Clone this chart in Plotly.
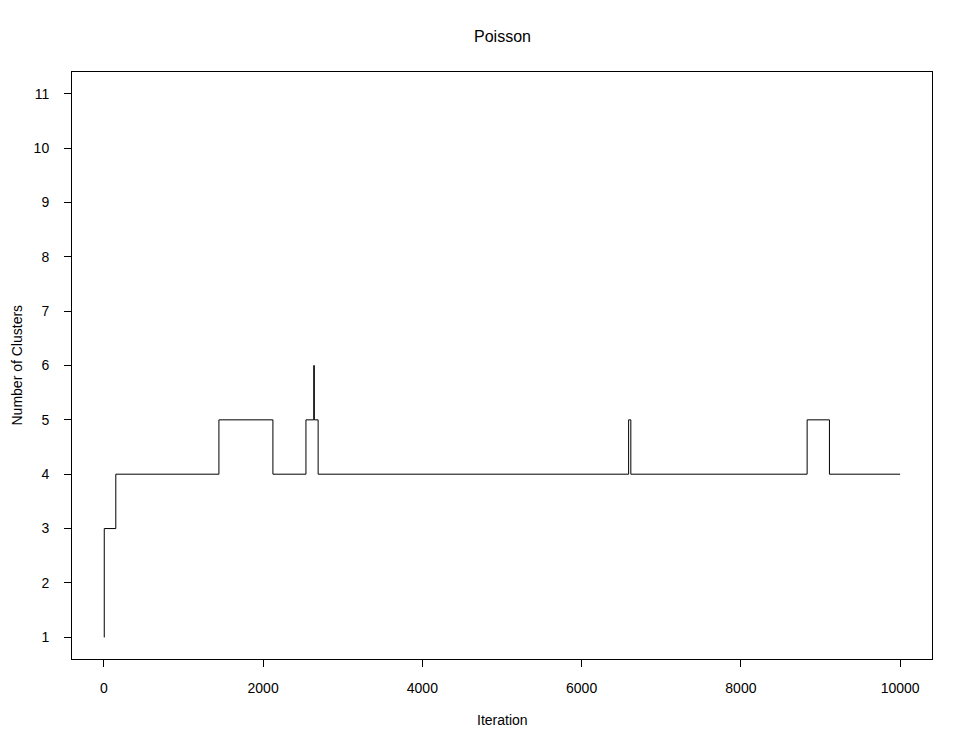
import plotly.graph_objects as go

# change points of the step trace (iteration, number of clusters)
iterations = [1, 5, 150, 1445, 2123, 2538, 2636, 2643, 2691, 6590, 6618, 8832, 9112, 10000]
clusters = [1, 3, 4, 5, 4, 5, 6, 5, 4, 5, 4, 5, 4, 4]

x_ticks = [0, 2000, 4000, 6000, 8000, 10000]
y_ticks = list(range(1, 12))

font = "Liberation Sans, Arial, Helvetica, sans-serif"

fig = go.Figure()
fig.add_trace(go.Scatter(
    x=iterations, y=clusters, mode="lines",
    line=dict(color="black", width=1, shape="hv"),
    showlegend=False, hoverinfo="skip",
))

fig.update_layout(
    width=961, height=741,
    margin=dict(l=64, r=37, t=64, b=90),
    paper_bgcolor="white", plot_bgcolor="white",
    font=dict(family=font, size=14, color="black"),
    showlegend=False,
)

fig.update_xaxes(
    range=[-400, 10400], tickvals=x_ticks, ticktext=[str(v) for v in x_ticks],
    showgrid=False, zeroline=False,
    showline=True, linecolor="black", linewidth=1, mirror=True,
    ticks="outside", ticklen=7, tickcolor="black", tickwidth=1,
    ticklabelstandoff=9, tickfont=dict(size=14),
)
fig.update_yaxes(
    range=[0.6, 11.4], tickvals=y_ticks, ticktext=[str(v) for v in y_ticks],
    showgrid=False, zeroline=False,
    showline=True, linecolor="black", linewidth=1, mirror=True,
    ticks="outside", ticklen=7, tickcolor="black", tickwidth=1,
    ticklabelstandoff=12, tickfont=dict(size=14),
)

fig.add_annotation(text="Poisson", xref="paper", yref="paper", x=0.5, y=1,
                   yshift=36, showarrow=False, font=dict(size=16, family=font),
                   xanchor="center", yanchor="middle")
fig.add_annotation(text="Iteration", xref="paper", yref="paper", x=0.5, y=0,
                   yshift=-61, showarrow=False, font=dict(size=14, family=font),
                   xanchor="center", yanchor="middle")
fig.add_annotation(text="Number of Clusters", xref="paper", yref="paper", x=0, y=0.5,
                   xshift=-56, showarrow=False, textangle=-90,
                   font=dict(size=14, family=font),
                   xanchor="center", yanchor="middle")

fig.write_html("out.html")
